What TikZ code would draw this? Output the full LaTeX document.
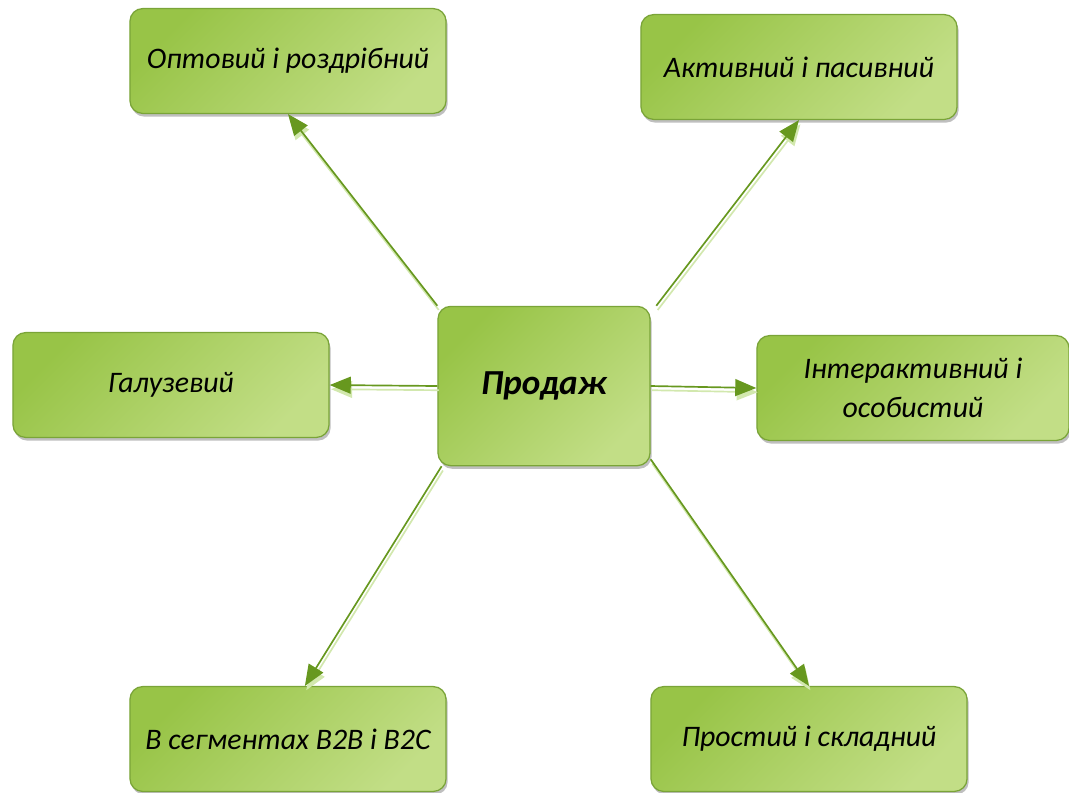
\documentclass[tikz,border=0pt]{standalone}
\usepackage{fontspec}
\setmainfont{Carlito}
\usetikzlibrary{arrows.meta, positioning, shadows}
\definecolor{leafdark}{HTML}{98C447}
\definecolor{leaflight}{HTML}{C2DE86}
\definecolor{leafline}{HTML}{7AA438}
\definecolor{stemgreen}{HTML}{67981F}
\definecolor{stemlight}{HTML}{D2E8AE}
\tikzstyle{leaf} = [rectangle, rounded corners=9pt, minimum width=7.9cm, minimum height=2.62cm, text centered, align=center, draw=leafline, line width=0.9pt, left color=leafdark, right color=leaflight, shading angle=45, drop shadow={shadow xshift=0.04cm, shadow yshift=-0.08cm, fill=black, opacity=0.25}, font=\fontsize{21.2}{28}\selectfont\itshape]
\tikzstyle{hub} = [leaf, minimum width=5.3cm, minimum height=3.98cm, font=\fontsize{25}{30}\selectfont\bfseries\itshape]
\tikzstyle{arrow} = [line width=1.2pt, draw=stemgreen, -{Triangle[length=15pt,width=12pt]}, preaction={draw=stemlight, line width=1.2pt, transform canvas={shift={(1pt,-3pt)}}}]

\begin{document}
\begin{tikzpicture}[x=0.025cm, y=-0.025cm]
\useasboundingbox (0,0) rectangle (1069,792);

%% boxes
\node (prodazh) [hub] at (544,386) {Продаж};
\node (opt) [leaf] at (288,61) {Оптовий і роздрібний};
\node (aktyv) [leaf] at (799,67) {Активний і пасивний};
\node (galuz) [leaf] at (171,385) {Галузевий};
\node (interakt) [leaf, minimum width=7.8cm] at (913,388) {Інтерактивний і\\особистий};
\node (segment) [leaf] at (288,739) {В сегментах B2B і B2C};
\node (prostyi) [leaf] at (809,739) {Простий і складний};

%% arrows
\draw [arrow] (prodazh.north west) -- (opt.south);
\draw [arrow] ([xshift=4pt]prodazh.north east) -- (aktyv.south);
\draw [arrow] (prodazh.west) -- (galuz.east);
\draw [arrow] (prodazh.east) -- (interakt.west);
\draw [arrow] ([xshift=3pt]prodazh.south west) -- ([xshift=12pt]segment.north);
\draw [arrow] ([yshift=5pt]prodazh.south east) -- (prostyi.north);

\end{tikzpicture}
\end{document}
